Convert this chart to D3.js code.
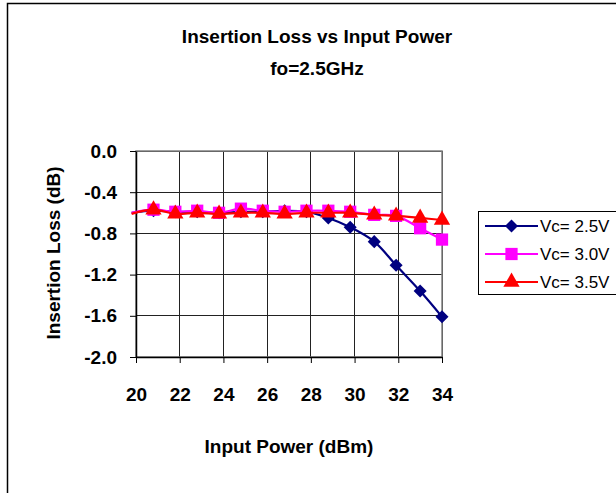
<!DOCTYPE html>
<html>
<head>
<meta charset="utf-8">
<script src="https://cdn.jsdelivr.net/npm/d3@7"></script>
<style>
  body { margin: 0; background: #fff; }
  svg { display: block; font-family: "Liberation Sans", Arial, sans-serif; }
</style>
</head>
<body>
<svg id="chart" width="616" height="493"></svg>
<script>
// input power (dBm); first point sits just left of the axis, no marker shown there
const power = [19.8, 20.8, 21.8, 22.8, 23.8, 24.8, 25.8, 26.8, 27.8, 28.8, 29.8, 30.9, 31.9, 33.0, 34.0];
const vc25 = [-0.60, -0.58, -0.59, -0.59, -0.60, -0.59, -0.59, -0.58, -0.59, -0.65, -0.74, -0.88, -1.11, -1.36, -1.61];
const vc30 = [-0.60, -0.57, -0.59, -0.58, -0.60, -0.56, -0.58, -0.59, -0.58, -0.58, -0.59, -0.62, -0.63, -0.75, -0.86];
const vc35 = [-0.61, -0.57, -0.61, -0.60, -0.61, -0.60, -0.60, -0.61, -0.60, -0.60, -0.60, -0.62, -0.63, -0.65, -0.67];
const seriesNames = ["Vc= 2.5V", "Vc= 3.0V", "Vc= 3.5V"];
const xTicks = [20, 22, 24, 26, 28, 30, 32, 34];
const yTicks = [0, -0.4, -0.8, -1.2, -1.6, -2.0];

const svg = d3.select("#chart");

const plotL = 136, plotR = 442, plotT = 151, plotB = 357;

const x = d3.scaleLinear().domain([20, 34]).range([plotL, plotR]);
const y = d3.scaleLinear().domain([-2, 0]).range([plotB, plotT]);

const series = [
  {name: seriesNames[0], values: vc25, color: "#000080", symbol: d3.symbolSquare, size: 85, rot: 45},
  {name: seriesNames[1], values: vc30, color: "#ff00ff", symbol: d3.symbolSquare, size: 150, rot: 0},
  {name: seriesNames[2], values: vc35, color: "#ff0000", symbol: d3.symbolTriangle, size: 115, rot: 0}
];

// outer chart border (runs past the window on the right and bottom)
svg.append("rect")
    .attr("x", 7.5).attr("y", 3.5)
    .attr("width", 660).attr("height", 520)
    .attr("fill", "none")
    .attr("stroke", "#000")
    .attr("stroke-width", 1.5);

// titles
svg.append("text")
    .attr("x", 317).attr("y", 43)
    .attr("text-anchor", "middle")
    .attr("font-size", 19).attr("font-weight", "bold")
    .text("Insertion Loss vs Input Power");

svg.append("text")
    .attr("x", 317).attr("y", 75)
    .attr("text-anchor", "middle")
    .attr("font-size", 19).attr("font-weight", "bold")
    .text("fo=2.5GHz");

// gridlines
const grid = svg.append("g").attr("stroke", "#222").attr("stroke-width", 1).attr("shape-rendering", "crispEdges");
grid.selectAll(".h").data(yTicks).enter().append("line")
    .attr("x1", plotL).attr("x2", plotR)
    .attr("y1", d => y(d)).attr("y2", d => y(d));
grid.selectAll(".v").data(xTicks).enter().append("line")
    .attr("y1", plotT).attr("y2", plotB)
    .attr("x1", d => x(d)).attr("x2", d => x(d));

// plot area border (top/right grey)
svg.append("rect")
    .attr("x", plotL).attr("y", plotT)
    .attr("width", plotR - plotL).attr("height", plotB - plotT)
    .attr("fill", "none")
    .attr("stroke", "#808080")
    .attr("stroke-width", 1.5);

// axes
const xAxis = svg.append("g")
    .attr("transform", `translate(0,${plotB})`)
    .call(d3.axisBottom(x).tickValues(xTicks).tickSize(6).tickPadding(25).tickSizeOuter(0));
const yAxis = svg.append("g")
    .attr("transform", `translate(${plotL},0)`)
    .call(d3.axisLeft(y).tickValues(yTicks).tickSize(6).tickPadding(13).tickSizeOuter(0));

[xAxis, yAxis].forEach(a => {
  a.select(".domain").attr("stroke", "#000").attr("stroke-width", 1.5);
  a.selectAll(".tick line").attr("stroke", "#000");
  a.selectAll("text")
      .attr("font-family", "Liberation Sans, Arial, sans-serif")
      .attr("font-size", 19).attr("font-weight", "bold").attr("fill", "#000");
});
yAxis.selectAll("text").text(d => d3.format(".1f")(d).replace("−", "-"));

// axis titles
svg.append("text")
    .attr("transform", "translate(60,253) rotate(-90)")
    .attr("text-anchor", "middle")
    .attr("font-size", 19).attr("font-weight", "bold")
    .text("Insertion Loss (dB)");

svg.append("text")
    .attr("x", (plotL + plotR) / 2).attr("y", 453)
    .attr("text-anchor", "middle")
    .attr("font-size", 19).attr("font-weight", "bold")
    .text("Input Power (dBm)");

// lines and markers
const line = d3.line()
    .x(d => x(d[0]))
    .y(d => y(d[1]))
    .curve(d3.curveCatmullRom);

series.forEach(s => {
  const pts = power.map((p, i) => [p, s.values[i]]);
  svg.append("path")
      .datum(pts)
      .attr("d", line)
      .attr("fill", "none")
      .attr("stroke", s.color)
      .attr("stroke-width", 2.2);
  svg.append("g").selectAll("path")
      .data(pts.filter(d => d[0] >= 20))
      .enter().append("path")
      .attr("d", d3.symbol().type(s.symbol).size(s.size))
      .attr("transform", d => `translate(${x(d[0])},${y(d[1])}) rotate(${s.rot})`)
      .attr("fill", s.color);
});

// legend
const legend = svg.append("g");
legend.append("rect")
    .attr("x", 478.5).attr("y", 211.5)
    .attr("width", 200).attr("height", 83)
    .attr("fill", "#fff")
    .attr("stroke", "#000")
    .attr("stroke-width", 1);

series.forEach((s, i) => {
  const ly = 226 + i * 28;
  legend.append("line")
      .attr("x1", 485).attr("x2", 538)
      .attr("y1", ly).attr("y2", ly)
      .attr("stroke", s.color).attr("stroke-width", 2);
  legend.append("path")
      .attr("d", d3.symbol().type(s.symbol).size(s.size))
      .attr("transform", `translate(511.5,${ly}) rotate(${s.rot})`)
      .attr("fill", s.color);
  legend.append("text")
      .attr("x", 540).attr("y", ly + 6)
      .attr("font-size", 17)
      .text(s.name);
});
</script>
</body>
</html>
